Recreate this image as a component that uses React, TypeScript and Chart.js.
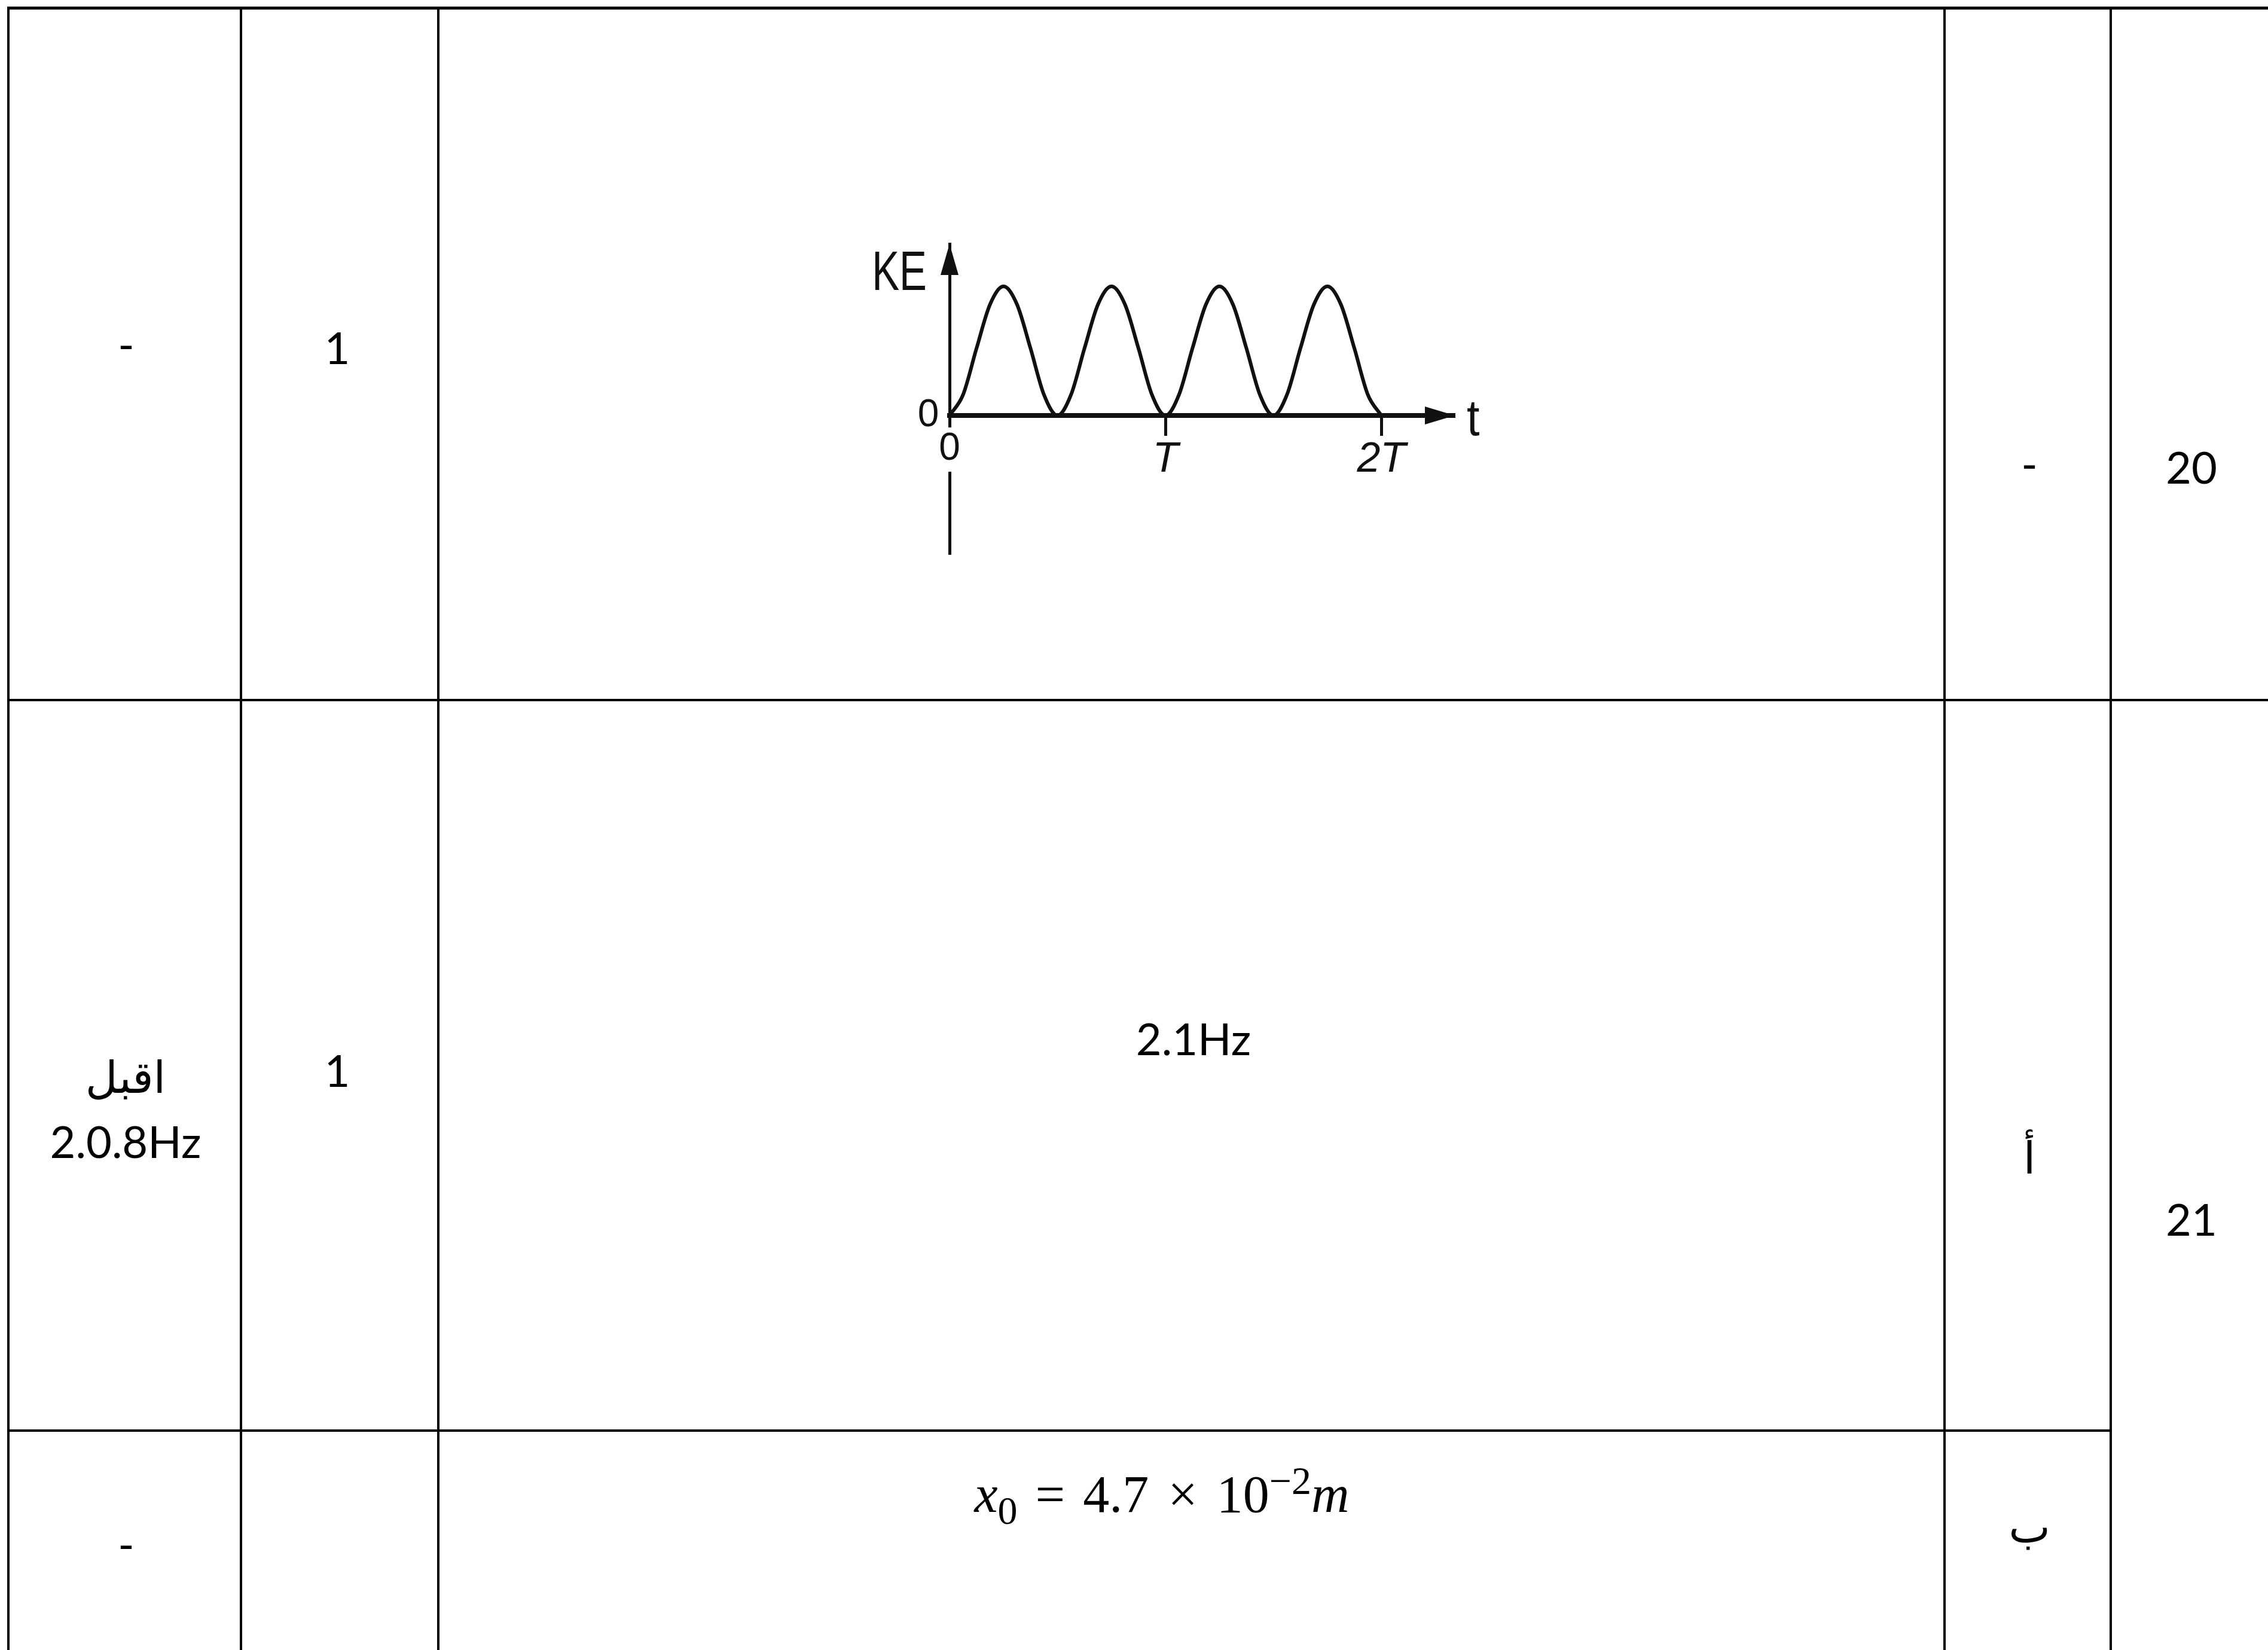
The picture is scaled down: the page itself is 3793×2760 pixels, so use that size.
import React, { useEffect, useRef } from "react";
import { Chart, registerables } from "chart.js";

Chart.register(...registerables);

// ---- chart data (t in units of the period T, KE relative to its maximum) ----
const tValues = [
  0, 0.0625, 0.125, 0.1875, 0.25, 0.3125, 0.375, 0.4375, 0.5,
  0.5625, 0.625, 0.6875, 0.75, 0.8125, 0.875, 0.9375, 1,
  1.0625, 1.125, 1.1875, 1.25, 1.3125, 1.375, 1.4375, 1.5,
  1.5625, 1.625, 1.6875, 1.75, 1.8125, 1.875, 1.9375, 2,
];
const keValues = [
  0, 0.16, 0.52, 0.86, 1, 0.86, 0.52, 0.16, 0,
  0.16, 0.52, 0.86, 1, 0.86, 0.52, 0.16, 0,
  0.16, 0.52, 0.86, 1, 0.86, 0.52, 0.16, 0,
  0.16, 0.52, 0.86, 1, 0.86, 0.52, 0.16, 0,
];
const xTickValues = [0, 1, 2];
const xTickLabels = ["0", "T", "2T"];
const yTickValues = [0];
const yTickLabels = ["0"];
const xAxisMax = 2.34;
const yAxisMin = -1.074;
const yAxisMax = 1.329;
const yAxisTitle = "KE";
const xAxisTitle = "t";

// ---- table content ----
const questionNumbers = ["20", "21"];
const partLabels = ["-", "أ", "ب"];
const markValues = ["1", "1"];
const noteTexts = ["-", "اقبل", "2.0.8Hz", "-"];
const answerTexts = ["2.1Hz"];

const BODY_FONT = "Lato, 'DejaVu Sans', sans-serif";
const AXIS_FONT = "'Liberation Sans', Arial, sans-serif";

const axisDecor = {
  id: "axisDecor",
  afterDraw(chart: any) {
    const { ctx, scales } = chart;
    const x = scales.x;
    const y = scales.y;
    const x0 = x.getPixelForValue(0);
    const y0 = y.getPixelForValue(0);
    const xEnd = x.getPixelForValue(x.max);
    const yEnd = y.getPixelForValue(y.max);
    ctx.save();
    ctx.fillStyle = "#111";
    ctx.beginPath();
    ctx.moveTo(xEnd, y0);
    ctx.lineTo(xEnd - 50, y0 - 15);
    ctx.lineTo(xEnd - 50, y0 + 15);
    ctx.closePath();
    ctx.fill();
    ctx.beginPath();
    ctx.moveTo(x0, yEnd);
    ctx.lineTo(x0 - 15, yEnd + 52);
    ctx.lineTo(x0 + 15, yEnd + 52);
    ctx.closePath();
    ctx.fill();
    ctx.textBaseline = "alphabetic";
    // y title, condensed like the original figure
    ctx.save();
    ctx.translate(x0 - 38, yEnd + 77);
    ctx.scale(0.74, 1);
    ctx.font = `93px ${AXIS_FONT}`;
    ctx.textAlign = "right";
    ctx.fillText(yAxisTitle, 0, 0);
    ctx.restore();
    // x title
    ctx.save();
    ctx.translate(xEnd + 20, y0 + 33);
    ctx.scale(0.9, 1);
    ctx.font = `86px ${AXIS_FONT}`;
    ctx.textAlign = "left";
    ctx.fillText(xAxisTitle, 0, 0);
    ctx.restore();
    ctx.restore();
  },
};

function KEChart() {
  const ref = useRef<HTMLCanvasElement | null>(null);
  useEffect(() => {
    if (!ref.current) return;
    const chart = new Chart(ref.current, {
      type: "line",
      data: {
        datasets: [
          {
            data: tValues.map((t, i) => ({ x: t, y: keValues[i] })),
            borderColor: "#111",
            borderWidth: 6,
            pointRadius: 0,
            fill: false,
            cubicInterpolationMode: "monotone",
            clip: false as any,
          },
        ],
      },
      options: {
        animation: false,
        responsive: false,
        devicePixelRatio: 1,
        events: [],
        layout: { padding: { left: 188, right: 117, top: 48, bottom: 53 } },
        plugins: { legend: { display: false }, tooltip: { enabled: false } },
        scales: {
          x: {
            type: "linear",
            position: { y: 0 } as any,
            min: 0,
            max: xAxisMax,
            afterBuildTicks: (s: any) => {
              s.ticks = xTickValues.map((v) => ({ value: v }));
            },
            grid: {
              display: true,
              drawOnChartArea: false,
              drawTicks: true,
              tickLength: 30,
              tickWidth: 5,
              tickColor: "#111",
              lineWidth: 1,
            },
            border: { display: true, color: "#111", width: 8 },
            ticks: {
              z: 1,
              padding: -6,
              color: "#111",
              autoSkip: false,
              maxRotation: 0,
              callback: (_v: any, i: number) => xTickLabels[i],
              font: (c: any) =>
                c.index === 0
                  ? { family: AXIS_FONT, size: 64, lineHeight: 1 }
                  : { family: AXIS_FONT, size: 70, style: "italic", lineHeight: 1.45 },
              showLabelBackdrop: (c: any) => c.index === 0,
              backdropColor: "#fff",
              backdropPadding: { top: 4, bottom: 6, left: 6, right: 6 },
            } as any,
          },
          y: {
            type: "linear",
            position: { x: 0 } as any,
            min: yAxisMin,
            max: yAxisMax,
            afterBuildTicks: (s: any) => {
              s.ticks = yTickValues.map((v) => ({ value: v }));
            },
            grid: { display: false },
            border: { display: true, color: "#111", width: 5 },
            ticks: {
              color: "#111",
              padding: 0,
              callback: (_v: any, i: number) => yTickLabels[i] + " ",
              font: { family: AXIS_FONT, size: 64, lineHeight: 1 },
            },
          },
        },
      },
      plugins: [axisDecor],
    });
    return () => chart.destroy();
  }, []);
  return (
    <canvas
      ref={ref}
      width={1150}
      height={620}
      style={{ position: "absolute", left: 1400, top: 360, width: 1150, height: 620 }}
    />
  );
}

const lineColor = "#000";

function HLine({ x1, x2, y, w = 4 }: { x1: number; x2: number; y: number; w?: number }) {
  return (
    <div style={{ position: "absolute", left: x1, top: y - w / 2, width: x2 - x1, height: w, background: lineColor }} />
  );
}
function VLine({ x, y1, y2, w = 4 }: { x: number; y1: number; y2: number; w?: number }) {
  return (
    <div style={{ position: "absolute", left: x - w / 2, top: y1, width: w, height: y2 - y1, background: lineColor }} />
  );
}

function Txt({ cx, cy, children, size = 74, family = BODY_FONT, dir }: any) {
  return (
    <div
      dir={dir}
      style={{
        position: "absolute",
        left: cx,
        top: cy,
        transform: "translate(-50%, -50%)",
        fontFamily: family,
        fontSize: size,
        lineHeight: 1,
        whiteSpace: "nowrap",
        color: "#000",
      }}
    >
      {children}
    </div>
  );
}

export default function App() {
  const W = 3793;
  const H = 2760;
  const serif = "'Liberation Serif', 'DejaVu Serif', serif";
  return (
    <div style={{ position: "absolute", left: 0, top: 0, width: W, height: H, overflow: "hidden", background: "#fff" }}>
      {/* table grid */}
      <HLine x1={12} x2={W} y={13} w={5} />
      <HLine x1={12} x2={W} y={1171} />
      <HLine x1={12} x2={3532} y={2393} />
      <VLine x={14} y1={11} y2={H} />
      <VLine x={403} y1={11} y2={H} />
      <VLine x={733} y1={11} y2={H} />
      <VLine x={3252} y1={11} y2={H} />
      <VLine x={3530} y1={11} y2={H} />

      {/* row 20 */}
      <Txt cx={211} cy={575}>{noteTexts[0]}</Txt>
      <Txt cx={564} cy={581}>{markValues[0]}</Txt>
      <KEChart />
      <Txt cx={3394} cy={775}>{partLabels[0]}</Txt>
      <Txt cx={3665} cy={781}>{questionNumbers[0]}</Txt>

      {/* row 21 a */}
      <Txt cx={210} cy={1800} dir="rtl">{noteTexts[1]}</Txt>
      <Txt cx={210} cy={1909}>{noteTexts[2]}</Txt>
      <Txt cx={564} cy={1790}>{markValues[1]}</Txt>
      <Txt cx={1996} cy={1737}>{answerTexts[0]}</Txt>
      <Txt cx={3394} cy={1935} dir="rtl">{partLabels[1]}</Txt>
      <Txt cx={3665} cy={2039}>{questionNumbers[1]}</Txt>

      {/* row 21 b */}
      <Txt cx={211} cy={2582}>{noteTexts[3]}</Txt>
      <Txt cx={1943} cy={2500} size={88} family={serif}>
        <span style={{ fontStyle: "italic" }}>x</span>
        <span style={{ fontSize: "0.75em", position: "relative", top: "0.3em" }}>0</span>
        <span style={{ margin: "0 30px" }}>=</span>
        <span>4.7</span>
        <span style={{ margin: "0 32px" }}>×</span>
        <span>10</span>
        <span style={{ fontSize: "0.75em", position: "relative", top: "-0.45em" }}>−2</span>
        <span style={{ fontStyle: "italic" }}>m</span>
      </Txt>
      <Txt cx={3394} cy={2552} dir="rtl">{partLabels[2]}</Txt>
    </div>
  );
}
